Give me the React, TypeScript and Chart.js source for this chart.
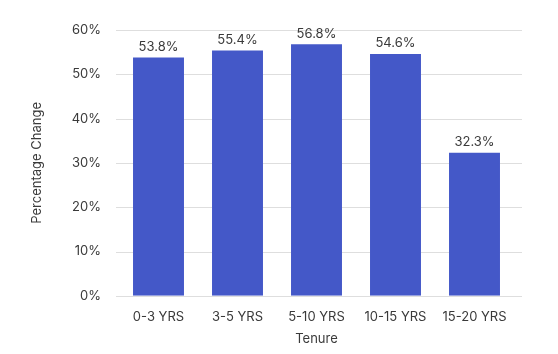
import React, { useEffect, useRef } from "react";
import { Chart, registerables } from "chart.js";

Chart.register(...registerables);

const categories = ["0-3 YRS", "3-5 YRS", "5-10 YRS", "10-15 YRS", "15-20 YRS"];
const values = [53.8, 55.4, 56.8, 54.6, 32.3];
const yTicks = [0, 10, 20, 30, 40, 50, 60];
const xTitle = "Tenure";
const yTitle = "Percentage Change";

const FONT = "Inter, 'Noto Sans', sans-serif";
const TEXT = "#3a3a3a";

const gridPlugin = {
  id: "wideGrid",
  beforeDatasetsDraw(chart: any) {
    const { ctx, chartArea, scales } = chart;
    const y = scales.y;
    ctx.save();
    ctx.strokeStyle = "#dedede";
    ctx.lineWidth = 1;
    yTicks.forEach((t) => {
      const py = Math.round(y.getPixelForValue(t)) + 0.5;
      ctx.beginPath();
      ctx.moveTo(chartArea.left - 3, py);
      ctx.lineTo(chartArea.right + 8, py);
      ctx.stroke();
    });
    ctx.restore();
  },
};

const labelPlugin = {
  id: "barLabels",
  afterDatasetsDraw(chart: any) {
    const { ctx } = chart;
    const meta = chart.getDatasetMeta(0);
    ctx.save();
    ctx.font = `13px ${FONT}`;
    ctx.fillStyle = TEXT;
    ctx.textAlign = "center";
    ctx.textBaseline = "bottom";
    meta.data.forEach((bar: any, i: number) => {
      ctx.fillText(values[i].toFixed(1) + "%", bar.x, bar.y - 4);
    });
    ctx.restore();
  },
};

export default function App() {
  const ref = useRef<HTMLCanvasElement | null>(null);
  useEffect(() => {
    if (!ref.current) return;
    const chart = new Chart(ref.current, {
      type: "bar",
      data: {
        labels: categories,
        datasets: [
          {
            data: values,
            backgroundColor: "#4458C8",
            borderWidth: 0,
            categoryPercentage: 1,
            barPercentage: 0.645,
          },
        ],
      },
      options: {
        animation: false,
        responsive: false,
        maintainAspectRatio: false,
        layout: { padding: { left: 29, right: 44, top: 30, bottom: 7 } },
        plugins: { legend: { display: false }, tooltip: { enabled: false } },
        scales: {
          x: {
            grid: { display: false, drawTicks: false },
            border: { display: false },
            ticks: { color: TEXT, font: { family: FONT, size: 13 }, padding: 13, maxRotation: 0 },
            title: {
              display: true,
              text: xTitle,
              color: TEXT,
              font: { family: FONT, size: 13 },
              padding: { top: -6, bottom: 0 },
            },
          },
          y: {
            min: 0,
            max: 60,
            grid: { display: false, drawTicks: false },
            border: { display: false },
            ticks: {
              stepSize: 10,
              color: TEXT,
              font: { family: FONT, size: 13 },
              padding: 18,
              callback: (v: any) => v + "%",
            },
            title: {
              display: true,
              text: yTitle,
              color: TEXT,
              font: { family: FONT, size: 13 },
              padding: { top: 0, bottom: 0 },
            },
            afterFit: (scale: any) => {
              scale.width = 90;
            },
          },
        },
      },
      plugins: [gridPlugin, labelPlugin],
    });
    return () => chart.destroy();
  }, []);
  return (
    <div style={{ position: "absolute", left: 0, top: 0, width: 558, height: 354, background: "#fff" }}>
      <canvas ref={ref} width={558} height={354} />
    </div>
  );
}
